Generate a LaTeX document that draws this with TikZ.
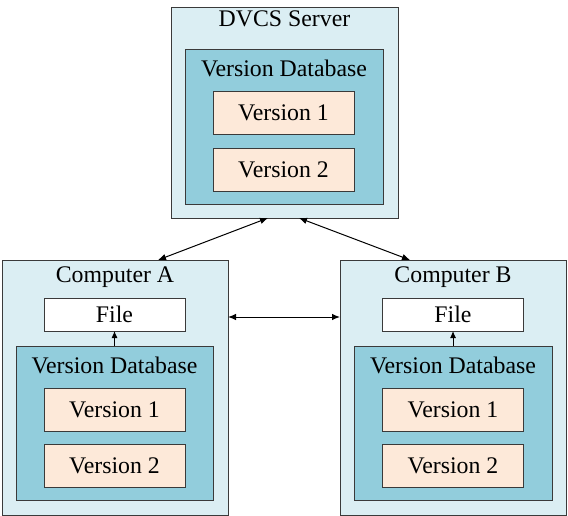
\documentclass[tikz,border=0pt]{standalone}
\usepackage{fontspec}
\setmainfont{Liberation Serif}
\usetikzlibrary{arrows.meta,calc}
\definecolor{outerfill}{HTML}{DBEEF3}
\definecolor{dbfill}{HTML}{92CDDC}
\definecolor{verfill}{HTML}{FDE9D9}
\definecolor{edge}{HTML}{3A3A3A}
\tikzset{
  box/.style={draw=edge, line width=0.9bp, inner sep=0pt, outer sep=0pt, rectangle},
  outerbox/.style={box, fill=outerfill},
  dbbox/.style={box, fill=dbfill},
  verbox/.style={box, fill=verfill, minimum width=141bp, minimum height=43bp, font=\fontsize{23.8bp}{28bp}\selectfont},
  filebox/.style={box, fill=white, minimum width=141bp, minimum height=33bp, font=\fontsize{23.8bp}{28bp}\selectfont},
  title/.style={anchor=base, inner sep=0pt, font=\fontsize{23.8bp}{28bp}\selectfont},
  conn/.style={line width=1bp, {Latex[length=8bp,width=6.5bp]}-{Latex[length=8bp,width=6.5bp]}},
  oneway/.style={line width=1bp, -{Latex[length=7bp,width=6bp]}}
}
\begin{document}
\begin{tikzpicture}[x=1bp,y=-1bp]
\useasboundingbox (0,0) rectangle (568,516);
% Server
\node[outerbox, minimum width=227bp, minimum height=211bp] (srv) at (284.5,112.5) {};
\node[title] (srvt) at (284.5,27) {DVCS Server};
\node[dbbox, minimum width=198bp, minimum height=155bp] (srvdb) at (284,126.5) {};
\node[title] (srvdbt) at (284,77) {Version Database};
\node[verbox] (sv1) at (283.5,113) {Version 1};
\node[verbox] (sv2) at (283.5,169.5) {Version 2};
% Computer A
\node[outerbox, minimum width=226bp, minimum height=255bp] (ca) at (115,387.5) {};
\node[title] (cat) at (115,282) {Computer A};
\node[filebox] (fa) at (114.5,314.5) {File};
\node[dbbox, minimum width=197bp, minimum height=154bp] (dba) at (114.5,423) {};
\node[title] (dbat) at (114.5,373) {Version Database};
\node[verbox] (av1) at (114.5,409.5) {Version 1};
\node[verbox] (av2) at (114.5,465.5) {Version 2};
% Computer B
\node[outerbox, minimum width=226bp, minimum height=255bp] (cb) at (453,387.5) {};
\node[title] (cbt) at (453,282) {Computer B};
\node[filebox] (fb) at (453,314.5) {File};
\node[dbbox, minimum width=198bp, minimum height=154bp] (dbb) at (453,423) {};
\node[title] (dbbt) at (453,373) {Version Database};
\node[verbox] (bv1) at (453,409.5) {Version 1};
\node[verbox] (bv2) at (453,465.5) {Version 2};
% connectors
\draw[conn] ([xshift=-16.5bp]srv.south) -- ([xshift=43bp]ca.north);
\draw[conn] ([xshift=14.5bp]srv.south) -- ([xshift=-43bp]cb.north);
\draw[conn] ([yshift=70.5bp]ca.east) -- ([yshift=70.5bp]cb.west);
\draw[oneway] (dba.north) -- (fa.south);
\draw[oneway] (dbb.north) -- (fb.south);
\end{tikzpicture}
\end{document}
